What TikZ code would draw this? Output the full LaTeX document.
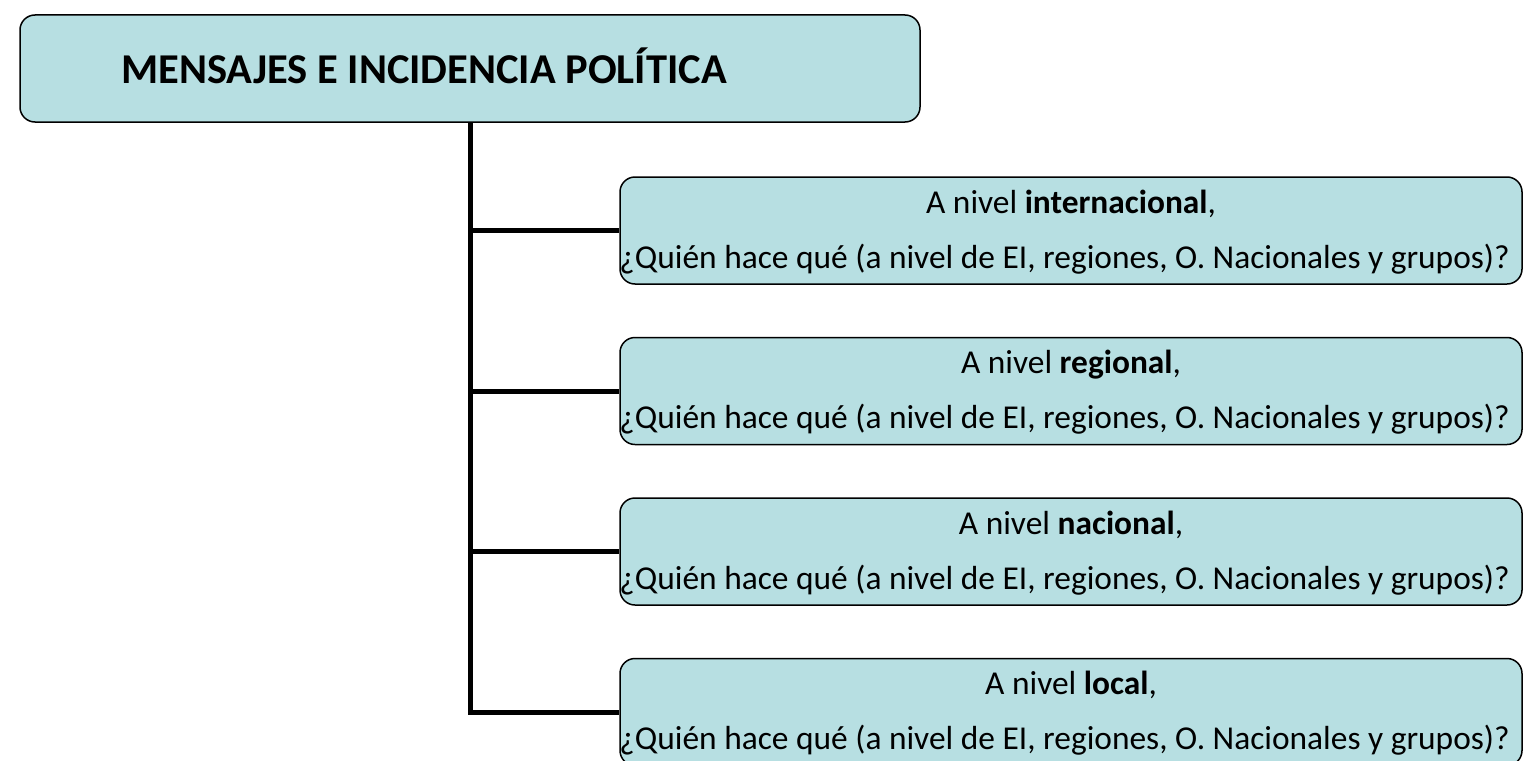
\documentclass[tikz,border=0pt]{standalone}
\usepackage{fontspec}
\setmainfont{Carlito}
\usepackage{xcolor}
\usepackage{tikz}
\usetikzlibrary{positioning}

\definecolor{azulclaro}{RGB}{183,223,226}

\begin{document}
\begin{tikzpicture}[
		x=1pt, y=-1pt,
		node distance = 52pt and 0pt,
		titulo/.style = {draw, line width=1.5pt, rounded corners=15pt, minimum width=900pt, minimum height=107pt, fill=azulclaro},
		nivel/.style = {draw, line width=1.5pt, rounded corners=15pt, minimum width=902pt, minimum height=107pt, fill=azulclaro},
		texto/.style = {inner sep=0pt, font=\fontsize{33.4}{40}\selectfont},
		line/.style = {draw, line width=5pt}
	]
	\useasboundingbox (0,0) rectangle (1525,760);

	% Nodos
	\node [titulo] (mensajes) at (470,68.5) {};
	\node [anchor=west, inner sep=0pt, font=\fontsize{42.5}{51}\selectfont\bfseries] (titulotxt) at ([xshift=102pt, yshift=2.5pt]mensajes.west) {MENSAJES E INCIDENCIA POLÍTICA};

	\node [nivel] (internacional) at (1071,230.5) {};
	\node [nivel, below=of internacional] (regional) {};
	\node [nivel, below=of regional] (nacional) {};
	\node [nivel, below=of nacional] (local) {};

	\node [texto, anchor=base] (internacional-a) at ([yshift=17.5pt]internacional.center) {A nivel \textbf{internacional},};
	\node [texto, anchor=base west] (internacional-b) at ([yshift=-37.5pt]internacional.west) {¿Quién hace qué (a nivel de EI, regiones, O. Nacionales y grupos)?};
	\node [texto, anchor=base] (regional-a) at ([yshift=17.5pt]regional.center) {A nivel \textbf{regional},};
	\node [texto, anchor=base west] (regional-b) at ([yshift=-37.5pt]regional.west) {¿Quién hace qué (a nivel de EI, regiones, O. Nacionales y grupos)?};
	\node [texto, anchor=base] (nacional-a) at ([yshift=17.5pt]nacional.center) {A nivel \textbf{nacional},};
	\node [texto, anchor=base west] (nacional-b) at ([yshift=-37.5pt]nacional.west) {¿Quién hace qué (a nivel de EI, regiones, O. Nacionales y grupos)?};
	\node [texto, anchor=base] (local-a) at ([yshift=17.5pt]local.center) {A nivel \textbf{local},};
	\node [texto, anchor=base west] (local-b) at ([yshift=-37.5pt]local.west) {¿Quién hace qué (a nivel de EI, regiones, O. Nacionales y grupos)?};

	% Lineas
	\draw [line] (mensajes.south) |- (local.west);
	\draw [line] (mensajes.south |- internacional.west) -- (internacional.west);
	\draw [line] (mensajes.south |- regional.west) -- (regional.west);
	\draw [line] (mensajes.south |- nacional.west) -- (nacional.west);
\end{tikzpicture}
\end{document}
